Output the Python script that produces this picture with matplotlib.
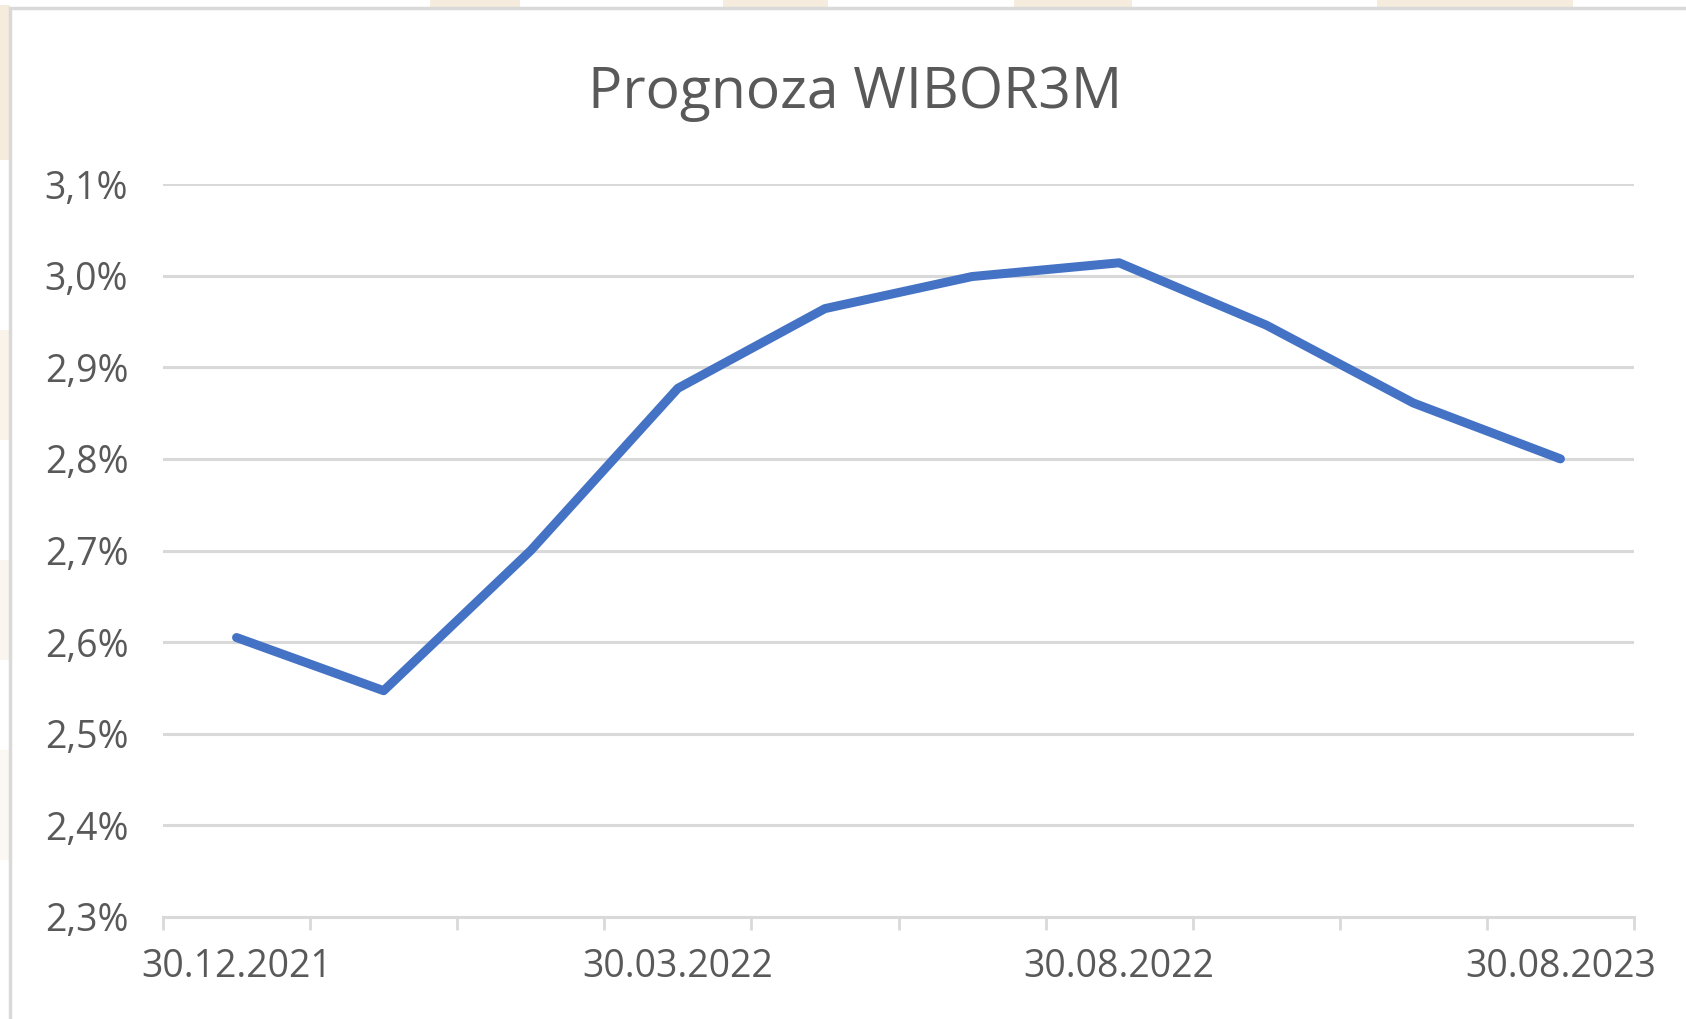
import matplotlib.pyplot as plt
from matplotlib.patches import Rectangle
from matplotlib.ticker import FuncFormatter, MultipleLocator

plt.rcParams['font.family'] = ['Open Sans', 'DejaVu Sans']

# dane
dates = ['30.12.2021', '', '', '30.03.2022', '', '', '30.08.2022', '', '', '30.08.2023']
wibor = [2.605, 2.547, 2.70, 2.877, 2.964, 2.999, 3.014, 2.946, 2.861, 2.80]
y_min, y_max = 2.3, 3.1

txt = '#595959'
grid = '#d9d9d9'
blue = '#4472c4'

fig = plt.figure(figsize=(16.86, 10.19), dpi=100)
fig.patch.set_facecolor('white')

# tlo: jasne beżowe plamy znaku wodnego poza ramką
beige = '#f2e5d0'
for x0, w in [(430, 90), (723, 105), (1014, 63), (1077, 55), (1377, 196)]:
    fig.patches.append(Rectangle((x0 / 1686, 1 - 8 / 1019), w / 1686, 8 / 1019,
                                 transform=fig.transFigure, color=beige, alpha=0.7, lw=0))
for y0, h, a in [(5, 155, 0.7), (330, 110, 0.45), (560, 100, 0.35), (750, 110, 0.25)]:
    fig.patches.append(Rectangle((0, 1 - (y0 + h) / 1019), 10 / 1686, h / 1019,
                                 transform=fig.transFigure, color=beige, alpha=a, lw=0))

# ramka wykresu
fig.patches.append(Rectangle((10 / 1686, -0.05), 1.1, 1 - 8 / 1019 + 0.05,
                             transform=fig.transFigure, fill=False, ec=grid, lw=2.5))

ax = fig.add_axes([163 / 1686, 1 - 917 / 1019, (1634 - 163) / 1686, (917 - 184) / 1019])
x = list(range(len(wibor)))
ax.plot(x, wibor, color=blue, lw=6.5, solid_joinstyle='round', solid_capstyle='round', zorder=3)

ax.set_xlim(-0.5, len(wibor) - 0.5)
ax.set_ylim(y_min, y_max)
ax.yaxis.set_major_locator(MultipleLocator(0.1))
ax.yaxis.set_major_formatter(FuncFormatter(lambda v, p: f'{v:.1f}%'.replace('.', ',')))
ax.grid(axis='y', color=grid, lw=2.2)
ax.set_axisbelow(True)

ax.set_xticks([i for i in x if dates[i]])
ax.set_xticklabels([d for d in dates if d])
ax.set_xticks([i - 0.5 for i in range(len(wibor) + 1)], minor=True)
ax.tick_params(axis='x', which='major', length=0, pad=22, labelsize=27, labelcolor=txt)
ax.tick_params(axis='x', which='minor', length=9.5, width=2, color=grid)
ax.tick_params(axis='y', length=0, pad=25, labelsize=27, labelcolor=txt)

for s in ['top', 'right', 'left']:
    ax.spines[s].set_visible(False)
ax.spines['bottom'].set_color(grid)
ax.spines['bottom'].set_linewidth(2.2)

fig.text(0.5 + 10 / 1686 / 2 + 0.004, 1 - 94 / 1019, 'Prognoza WIBOR3M', ha='center', va='center',
         fontsize=41, color=txt)

fig.savefig('out.png', dpi=100)
